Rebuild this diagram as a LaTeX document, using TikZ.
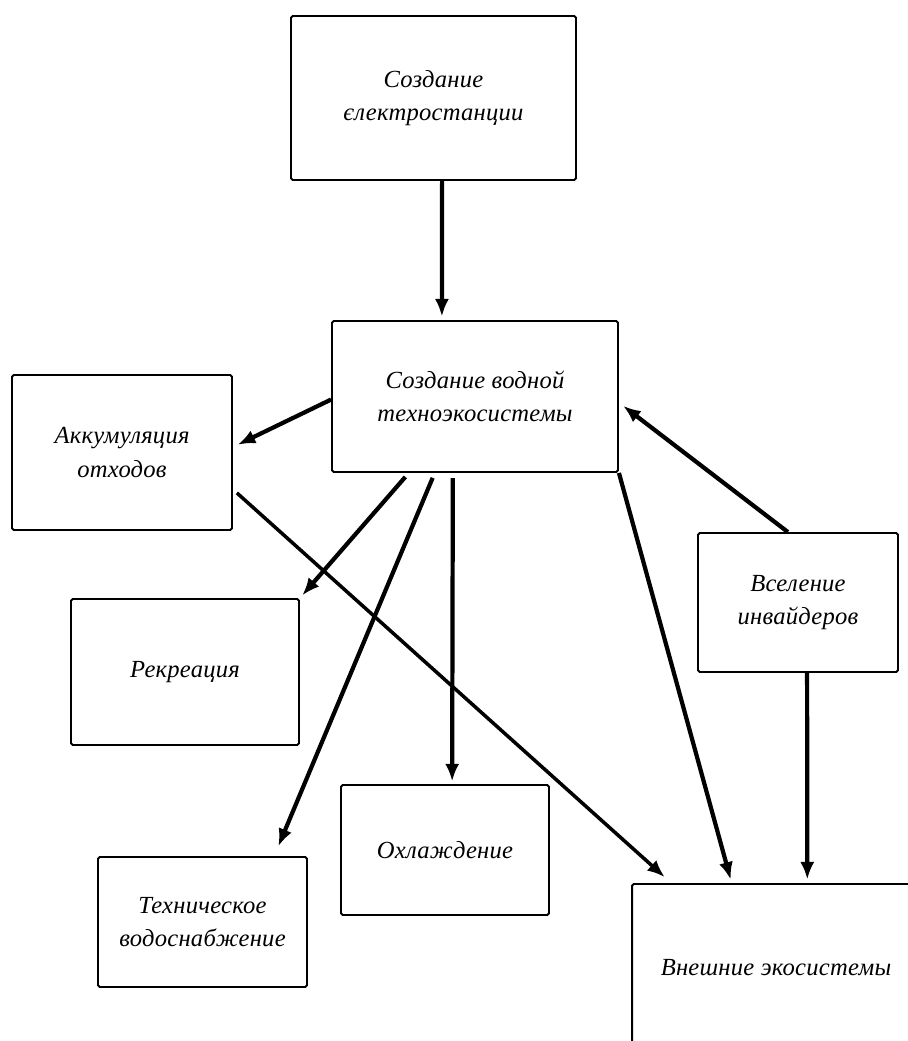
\documentclass[tikz,border=0pt]{standalone}
\usepackage{fontspec}
\setmainfont{Liberation Serif}[LetterSpace=1]
\usetikzlibrary{arrows.meta,calc}

\tikzset{
  blok/.style={draw, line width=1.1pt, rounded corners=1pt, align=center,
    inner sep=0pt, font=\fontsize{14}{19}\selectfont\itshape},
  strel/.style={-{Latex[length=10pt,width=8pt]}, line width=2.4pt},
}

\begin{document}
\begin{tikzpicture}[x=0.02cm,y=-0.02cm]
\clip (0,0) rectangle (908,1041);
\fill[white] (0,0) rectangle (908,1041);
 \node[blok, minimum width=5.70cm, minimum height=3.28cm] (elec) at (433.5,98) {Создание\\єлектростанции};
 \node[blok, minimum width=5.72cm, minimum height=3.02cm] (vod) at (475,396.5) {Создание водной\\техноэкосистемы};
 \node[blok, minimum width=4.40cm, minimum height=3.10cm] (akk) at (122,452.5) {Аккумуляция\\отходов};
 \node[blok, minimum width=4.56cm, minimum height=2.92cm] (rekr) at (185,672) {Рекреация};
 \node[blok, minimum width=4.18cm, minimum height=2.60cm] (tech) at (202.5,922) {Техническое\\водоснабжение};
 \node[blok, minimum width=4.16cm, minimum height=2.60cm] (okhl) at (445,850) {Охлаждение};
 \node[blok, minimum width=4.00cm, minimum height=2.78cm] (vsel) at (798,602.5) {Вселение\\инвайдеров};
 \node[blok, minimum width=5.76cm, minimum height=3.36cm] (vnesh) at (776,968) {Внешние экосистемы};
 \draw[strel, shorten >=2pt] ($(elec.south west)!0.53!(elec.south east)$) -- ($(vod.north west)!0.385!(vod.north east)$);
 \draw[strel, shorten >=3pt] ($(vod.north west)!0.52!(vod.south west)$) -- ($(akk.north east)!0.465!(akk.south east)$);
 \draw[strel, shorten <=3pt, shorten >=2pt] ($(vod.south west)!0.27!(vod.south east)$) -- (rekr.north east);
 \draw[strel, shorten <=3pt, shorten >=6pt] ($(vod.south west)!0.36!(vod.south east)$) -- ($(tech.north west)!0.84!(tech.north east)$);
 \draw[strel, shorten <=3pt, shorten >=1.5pt] ($(vod.south west)!0.423!(vod.south east)$) -- ($(okhl.north west)!0.534!(okhl.north east)$);
 \draw[strel, shorten >=2pt] (vod.south east) -- ($(vnesh.north west)!0.347!(vnesh.north east)$);
 \draw[strel, line width=2pt, shorten <=3pt, shorten >=5pt] ($(akk.north east)!0.735!(akk.south east)$) -- ($(vnesh.north west)!0.139!(vnesh.north east)$);
 \draw[strel, shorten >=3pt] ($(vsel.north west)!0.45!(vsel.north east)$) -- ($(vod.north east)!0.54!(vod.south east)$);
 \draw[strel, shorten >=2pt] ($(vsel.south west)!0.545!(vsel.south east)$) -- ($(vnesh.north west)!0.608!(vnesh.north east)$);
\end{tikzpicture}
\end{document}
